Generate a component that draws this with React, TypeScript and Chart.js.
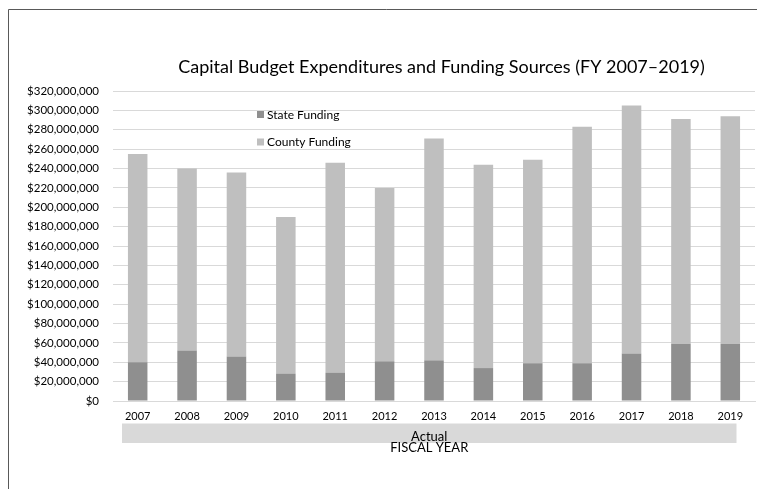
import React, { useEffect, useRef } from "react";
import { Chart, registerables } from "chart.js";

Chart.register(...registerables);

const years = ["2007", "2008", "2009", "2010", "2011", "2012", "2013", "2014", "2015", "2016", "2017", "2018", "2019"];
const stateFunding = [40e6, 52e6, 46e6, 28e6, 29e6, 41e6, 42e6, 34e6, 39e6, 39e6, 49e6, 59e6, 59e6];
const countyFunding = [215e6, 188e6, 190e6, 162e6, 217e6, 179e6, 229e6, 210e6, 210e6, 244e6, 256e6, 232e6, 235e6];
const seriesNames = ["State Funding", "County Funding"];
const seriesColors = ["#8f8f8f", "#bfbfbf"];
const titleText = "Capital Budget Expenditures and Funding Sources (FY 2007\u20132019)";
const groupLabel = "Actual";
const axisTitle = "FISCAL YEAR";

const FONT = "Lato";

const decorPlugin = {
  id: "decor",
  beforeDraw(chart: any) {
    const ctx = chart.ctx;
    ctx.save();
    ctx.fillStyle = "#ffffff";
    ctx.fillRect(0, 0, chart.width, chart.height);
    ctx.strokeStyle = "#595959";
    ctx.lineWidth = 1;
    ctx.beginPath();
    ctx.moveTo(0.5, chart.height);
    ctx.lineTo(0.5, 1.5);
    ctx.lineTo(chart.width, 1.5);
    ctx.stroke();
    ctx.restore();
  },
  afterDraw(chart: any) {
    const ctx = chart.ctx;
    const ca = chart.chartArea;
    ctx.save();
    // title
    ctx.fillStyle = "#000000";
    ctx.font = `18px ${FONT}`;
    ctx.textAlign = "center";
    ctx.textBaseline = "middle";
    ctx.fillText(titleText, ca.left + (ca.right - ca.left) / 2 + 7.5, 59);
    // legend
    ctx.font = `12px ${FONT}`;
    ctx.textAlign = "left";
    const lx = ca.left + 144;
    const ly = [106.5, 134];
    seriesNames.forEach((n, i) => {
      ctx.fillStyle = seriesColors[i];
      ctx.fillRect(lx, ly[i] - 3.5, 7, 7);
      ctx.fillStyle = "#000000";
      ctx.fillText(n, lx + 10, ly[i] + 0.5);
    });
    // group band
    const bl = ca.left + 9;
    const br = ca.right - 18.5;
    ctx.fillStyle = "#d9d9d9";
    ctx.fillRect(bl, 415.5, br - bl, 19.5);
    ctx.fillStyle = "#000000";
    ctx.font = `13px ${FONT}`;
    ctx.textAlign = "center";
    ctx.fillText(groupLabel, (bl + br) / 2, 428.5);
    ctx.fillText(axisTitle, (bl + br) / 2, 440);
    ctx.restore();
  },
};

export default function App() {
  const ref = useRef<HTMLCanvasElement>(null);
  useEffect(() => {
    if (!ref.current) return;
    const chart = new Chart(ref.current, {
      type: "bar",
      data: {
        labels: years,
        datasets: [
          { label: seriesNames[0], data: stateFunding, backgroundColor: seriesColors[0], barPercentage: 0.395, categoryPercentage: 1 },
          { label: seriesNames[1], data: countyFunding, backgroundColor: seriesColors[1], barPercentage: 0.395, categoryPercentage: 1 },
        ],
      },
      options: {
        animation: false,
        responsive: false,
        layout: { padding: { left: 0, right: 10, top: 83, bottom: 0 } },
        plugins: { legend: { display: false }, title: { display: false }, tooltip: { enabled: false } },
        scales: {
          x: {
            stacked: true,
            grid: { display: false, drawTicks: false },
            border: { display: true, color: "#d9d9d9" },
            ticks: { color: "#000000", font: { family: FONT, size: 11 }, padding: 9, maxRotation: 0 },
            afterFit: (s: any) => { s.height = 88; },
          },
          y: {
            stacked: true,
            min: 0,
            max: 320e6,
            grid: { color: "#d9d9d9", drawTicks: false },
            border: { display: false },
            ticks: {
              stepSize: 20e6,
              color: "#000000",
              font: { family: FONT, size: 11.5 },
              padding: 14,
              callback: (v: any) => "$" + Number(v).toLocaleString("en-US"),
            },
            afterFit: (s: any) => { s.width = 105; },
          },
        },
      },
      plugins: [decorPlugin],
    });
    return () => chart.destroy();
  }, []);
  return <canvas ref={ref} width={757} height={481} style={{ display: "block" }} />;
}
